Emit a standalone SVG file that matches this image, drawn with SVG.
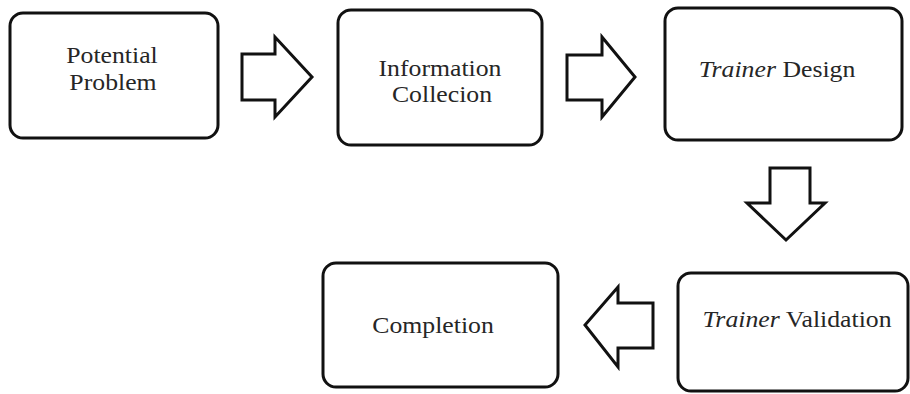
<svg xmlns="http://www.w3.org/2000/svg" width="910" height="394" viewBox="0 0 910 394">
<style>
.box{fill:#fff;stroke:#111;stroke-width:3}
.arr{fill:#fff;stroke:#111;stroke-width:3;stroke-linejoin:miter}
text{font-family:"Liberation Serif","Times New Roman",serif;font-size:23px;fill:#262626;text-anchor:middle}
.it{font-style:italic}
</style>
<rect width="910" height="394" fill="#fff"/>
<g id="node-potential-problem">
<rect class="box" x="10" y="13" width="208" height="125" rx="13"/>
<text transform="translate(112,63) scale(1.12,1)">Potential</text>
<text transform="translate(113,90) scale(1.12,1)">Problem</text>
</g>
<g id="node-information-collecion">
<rect class="box" x="338" y="10" width="204" height="135" rx="13"/>
<text transform="translate(440,76) scale(1.12,1)">Information</text>
<text transform="translate(442,102) scale(1.12,1)">Collecion</text>
</g>
<g id="node-trainer-design">
<rect class="box" x="665" y="8" width="237" height="132" rx="13"/>
<text transform="translate(777,77) scale(1.12,1)"><tspan class="it">Trainer</tspan> Design</text>
</g>
<g id="node-trainer-validation">
<rect class="box" x="678" y="273" width="230" height="118" rx="13"/>
<text transform="translate(797,327) scale(1.12,1)"><tspan class="it">Trainer</tspan> Validation</text>
</g>
<g id="node-completion">
<rect class="box" x="323" y="263" width="235" height="124" rx="13"/>
<text transform="translate(433,333) scale(1.12,1)">Completion</text>
</g>
<g id="connectors">
<polygon class="arr" points="242,54 275,54 275,37 312,77 275,117 275,100 242,100"/>
<polygon class="arr" points="567,55 602,55 602,37 635,77 602,117 602,100 567,100"/>
<polygon class="arr" points="770,168 810,168 810,203 825,203 786,240 747,203 770,203"/>
<polygon class="arr" points="653,303 618,303 618,287 585,325 618,367 618,348 653,348"/>
</g>
</svg>
